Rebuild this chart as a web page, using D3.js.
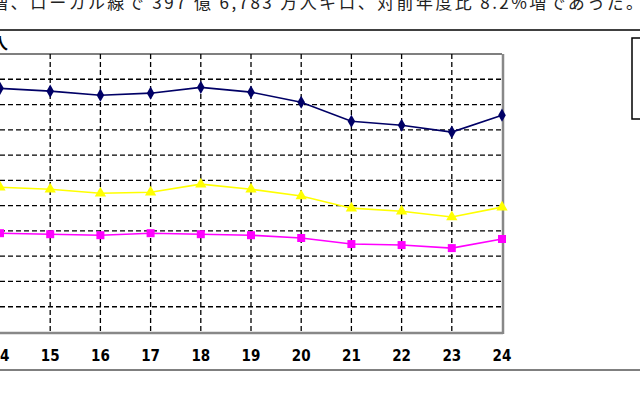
<!DOCTYPE html>
<html>
<head>
<meta charset="utf-8">
<script src="https://cdn.jsdelivr.net/npm/d3@7"></script>
<style>
  body { margin: 0; background: #fff; }
  svg { display: block; }
</style>
</head>
<body>
<svg id="chart" width="640" height="400"></svg>
<script>
// fiscal years (Heisei)
var years = [14, 15, 16, 17, 18, 19, 20, 21, 22, 23, 24];
// values in grid units (axis labels are cut off in the source)
var navySeries = [9.64, 9.53, 9.37, 9.45, 9.68, 9.49, 9.09, 8.34, 8.18, 7.91, 8.58];
var yellowSeries = [5.73, 5.65, 5.49, 5.53, 5.85, 5.65, 5.38, 4.90, 4.78, 4.55, 4.94];
var pinkSeries = [3.91, 3.87, 3.83, 3.91, 3.87, 3.83, 3.72, 3.48, 3.44, 3.32, 3.68];
var yTicks = d3.range(0, 12);

var svg = d3.select("#chart");

// cut-off text line above the figure
svg.append("text")
	.attr("x", -9).attr("y", 9)
	.attr("font-family", "Noto Sans CJK JP")
	.attr("font-size", 17)
	.attr("fill", "#222")
	.attr("textLength", 652)
	.attr("lengthAdjust", "spacing")
	.text("増、ローカル線で 397 億 6,783 万人キロ、対前年度比 8.2%増であった。");

svg.append("line").attr("x1", 0).attr("x2", 640).attr("y1", 30).attr("y2", 30)
	.attr("stroke", "#000").attr("stroke-width", 1.5);
svg.append("line").attr("x1", 0).attr("x2", 640).attr("y1", 370).attr("y2", 370)
	.attr("stroke", "#000").attr("stroke-width", 1);

svg.append("text")
	.attr("x", -8).attr("y", 49)
	.attr("font-family", "Noto Sans CJK JP")
	.attr("font-size", 16).attr("font-weight", "bold")
	.text("人");

var x = d3.scaleLinear().domain([14, 24]).range([0, 502]);
var y = d3.scaleLinear().domain([0, 11]).range([332, 54]);

// grid
var grid = svg.append("g");
grid.selectAll("line.h").data(yTicks.slice(1, 11)).enter().append("line")
	.attr("x1", 0).attr("x2", 502)
	.attr("y1", function(d) { return y(d); }).attr("y2", function(d) { return y(d); })
	.attr("stroke", "#000").attr("stroke-width", 1.3).attr("stroke-dasharray", "5,3");
grid.selectAll("line.v").data(years.slice(1, 10)).enter().append("line")
	.attr("x1", function(d) { return x(d); }).attr("x2", function(d) { return x(d); })
	.attr("y1", 54).attr("y2", 332)
	.attr("stroke", "#000").attr("stroke-width", 1.3).attr("stroke-dasharray", "5,3");

// frame
svg.append("line").attr("x1", 0).attr("x2", 502).attr("y1", 54).attr("y2", 54)
	.attr("stroke", "#000").attr("stroke-width", 1.2);
svg.append("line").attr("x1", 0).attr("x2", 503).attr("y1", 333).attr("y2", 333)
	.attr("stroke", "#888").attr("stroke-width", 2.5);
svg.append("line").attr("x1", 503).attr("x2", 503).attr("y1", 54).attr("y2", 334)
	.attr("stroke", "#888").attr("stroke-width", 2.5);

// x labels
svg.append("g").selectAll("text").data(years).enter().append("text")
	.attr("x", function(d) { return x(d); })
	.attr("y", 361)
	.attr("text-anchor", "middle")
	.attr("font-family", "DejaVu Sans Condensed, DejaVu Sans")
	.attr("font-size", 15).attr("font-weight", "bold")
	.text(function(d) { return d; });

var line = d3.line()
	.x(function(d, i) { return x(years[i]); })
	.y(function(d) { return y(d); });

function drawSeries(values, color, symbol, size) {
	svg.append("path").datum(values)
		.attr("d", line)
		.attr("fill", "none").attr("stroke", color).attr("stroke-width", 1.6);
	svg.append("g").selectAll("path").data(values).enter().append("path")
		.attr("transform", function(d, i) { return "translate(" + x(years[i]) + "," + y(d) + ")"; })
		.attr("d", d3.symbol().type(symbol).size(size))
		.attr("fill", color);
}

drawSeries(pinkSeries, "#ff00ff", d3.symbolSquare, 64);
drawSeries(yellowSeries, "#ffff00", d3.symbolTriangle, 55);
drawSeries(navySeries, "#000066", d3.symbolDiamond, 50);

// legend box (cut off at right edge)
svg.append("rect")
	.attr("x", 632).attr("y", 38).attr("width", 20).attr("height", 81)
	.attr("fill", "#fff").attr("stroke", "#000").attr("stroke-width", 1.5);
</script>
</body>
</html>
